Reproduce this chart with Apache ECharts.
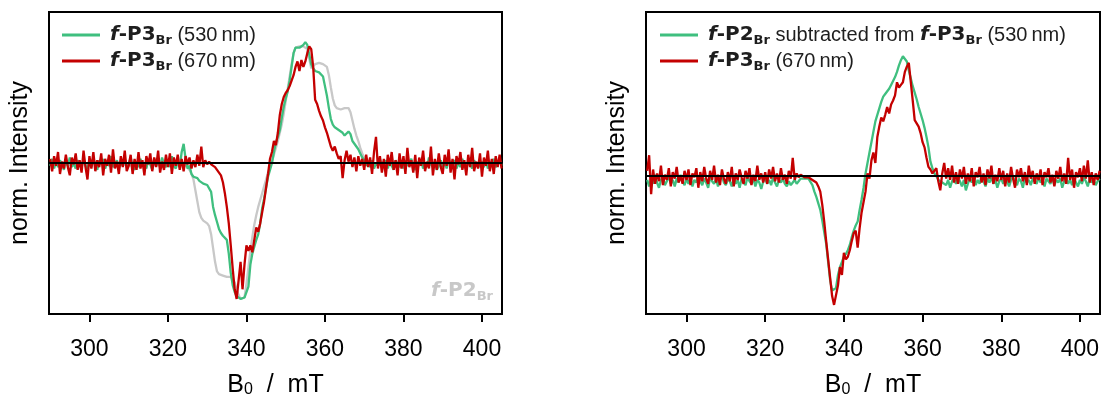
<!DOCTYPE html>
<html>
<head>
<meta charset="utf-8">
<script src="https://cdn.jsdelivr.net/npm/echarts@6/dist/echarts.min.js"></script>
<style>
html,body{margin:0;padding:0;background:#fff;}
#chart{width:1101px;height:398px;}
</style>
</head>
<body>
<div id="chart"></div>
<script>
// Field grid: B0 from 290 mT in 0.5 mT steps
const fieldStart = 290;
const fieldStep = 0.5;
const xTicks = [300, 320, 340, 360, 380, 400];

// Left panel (normalized intensity x100)
const leftP2 = [
 -1,0,-2,1,-1,-2,0,-1,1,-2,-1,0,-2,-1,1,-1,-2,0,-1,-1,
 0,-2,-1,1,-1,-2,0,-1,-2,1,-1,0,-2,-1,0,-1,1,-2,-1,0,
 -1,-2,0,-1,1,-2,-1,0,-1,-2,1,-1,0,-2,-1,1,-1,-2,0,-1,
 -1,0,-2,-1,1,-1,-2,0,-1,-2,-3,-5,-8,-12,-20,-28,-36,-40,-42,-42,
 -44,-46,-52,-62,-72,-79,-81,-82,-82,-82,-83,-82,-83,-84,-87,-92,-96,-99,-100,-98,
 -88,-76,-64,-54,-45,-38,-32,-27,-22,-17,-12,-7,-3,1,6,11,16,22,28,36,
 45,54,63,72,80,84,85,85,84,85,84,83,76,69,70,72,73,73,72,72,
 71,70,64,55,47,42,40,40,39,40,40,41,40,37,31,25,20,16,11,7,
 4,1,-1,0,-2,-1,0,-2,-1,1,-1,-2,0,-1,-2,0,-1,1,-1,-2,
 0,-1,-2,1,-1,0,-2,-1,0,-1,1,-2,-1,0,-1,-2,0,1,-1,-2,
 -1,0,-2,-1,1,-1,-2,0,-1,-1,0,-2,-1,1,-1,0,-2,-1,0,-1,
 -1,-2,0,-1,1,-1,-2,0,-1,0,-1
];
const leftP3_530 = [
 -2,3,-4,1,-3,2,-1,-5,2,-2,4,-3,0,-4,2,-1,-3,3,-2,-4,
 1,-3,4,-2,-5,2,-1,3,-4,0,-2,5,-3,-1,2,-4,1,-2,3,-3,
 -1,4,-2,-5,1,-3,3,-2,0,-4,2,-1,-5,3,-2,1,-3,4,-1,-3,
 2,-3,5,-2,-4,1,-3,8,14,3,-4,-2,-8,-10,-11,-11,-13,-14,-15,-15,
 -16,-17,-21,-32,-38,-43,-48,-51,-53,-54,-56,-66,-80,-89,-94,-97,-98,-99,-99,-98,
 -97,-90,-74,-66,-61,-56,-52,-44,-33,-26,-18,-10,-5,0,8,15,19,24,33,41,
 47,52,60,70,80,84,85,84,85,86,88,86,79,72,69,67,66,66,65,63,
 56,49,40,32,28,26,25,24,24,22,20,19,23,21,16,14,12,10,7,4,
 2,-2,1,-3,2,-4,0,-2,3,-3,-1,2,-4,1,-2,-5,2,-1,-3,1,
 -4,2,-2,-1,3,-3,-5,1,-2,2,-4,0,-3,4,-1,-3,1,-5,-2,2,
 -3,1,-4,3,-2,-1,2,-4,0,-3,3,-2,-5,1,-1,-4,2,-2,0,-3,
 1,-3,2,-4,0,-2,3,-3,-1,2,-2
];
const leftP3_670 = [
 3,-6,5,-2,8,-8,1,-4,6,-3,-9,4,-1,7,-5,2,-7,9,-3,-12,
 5,-4,8,-6,2,-3,7,-9,3,-2,6,-7,10,-4,1,-8,5,-3,9,-6,
 -2,6,-8,3,-5,8,-4,2,-9,5,-1,7,-6,4,-3,9,-7,1,-5,6,
 -3,7,-8,4,-2,6,-5,3,-6,5,-1,4,-4,2,-3,6,-2,12,-3,2,
 -1,1,-1,-2,-3,-5,-7,-9,-14,-22,-32,-44,-60,-77,-92,-99,-100,-72,-92,-74,
 -60,-64,-60,-65,-56,-47,-50,-44,-36,-28,-18,-8,3,8,16,13,22,35,43,48,
 51,53,56,60,64,70,74,67,75,70,74,80,85,83,70,46,43,38,34,31,
 26,22,17,12,9,12,7,3,5,-11,2,9,1,6,-3,4,-6,5,-2,3,
 -5,6,-3,4,-8,8,19,-4,5,-7,3,-10,6,-2,8,-5,2,-9,7,-4,
 5,-8,11,-3,2,-7,6,-11,4,-2,9,-6,1,-4,12,-9,3,-5,7,-3,
 -8,6,-2,10,-7,3,-12,5,-1,8,-5,2,-9,6,-3,11,-6,1,-4,7,
 -10,4,-2,9,-6,3,-8,5,-3,6,-4
];

// Right panel
const rightSub_530 = [
 -3,-8,-2,-6,1,-5,-9,-3,-1,-7,-4,0,-6,-3,-8,-2,-5,1,-4,-7,
 -2,-6,-1,-8,-3,-5,0,-4,-7,-2,-5,-9,-1,-4,-6,-2,-8,-3,0,-5,
 -7,-2,-4,-8,-1,-6,-3,-9,-2,-5,-7,-1,-4,-6,-2,-8,-3,-5,-10,-4,
 -2,-6,-3,-7,-1,-5,-8,-3,-5,-2,-6,-8,-4,-7,-5,-3,-6,-4,-2,-3,
 -2,-1,-2,-3,-7,-12,-16,-21,-26,-34,-43,-52,-66,-80,-88,-89,-86,-76,-70,-66,
 -62,-60,-57,-53,-47,-42,-38,-35,-26,-18,-9,2,10,18,26,34,42,47,52,57,
 61,63,64,67,70,73,76,80,85,89,92,91,88,81,75,69,64,59,53,48,
 43,37,30,22,11,6,2,0,-3,-2,-5,-4,-7,-3,-9,-4,-2,-6,-1,-4,
 -8,-3,-11,-6,-2,-5,-1,-7,-3,-6,0,-4,-8,-2,-5,-1,-6,-3,-9,-4,
 -2,-6,-1,-4,-8,-3,0,-5,-7,-2,-4,-9,-1,-5,-3,-7,-2,-4,-6,-1,
 -5,-3,-8,-2,-4,-6,-1,-7,-3,-5,-2,-9,-4,-1,-6,-3,-7,-2,-5,-8,
 -3,-6,-1,-4,-8,-2,-5,-3,-7,-4,-2
];
const rightP3_670 = [
 4,16,-14,5,-6,2,-4,8,-7,1,-3,6,-8,3,-2,7,-5,0,-6,4,
 -3,5,-7,2,-1,6,-9,3,-4,7,-2,-6,4,-3,8,-5,1,-7,5,-2,
 -6,3,-4,7,-8,2,-3,5,-1,-6,4,-2,6,-7,1,-4,8,-3,2,-5,
 3,-6,5,-2,7,-4,2,-5,6,-3,1,-6,4,-2,14,-3,2,-1,1,0,
 -1,-1,-1,-1,-3,-4,-5,-8,-12,-22,-35,-50,-64,-78,-92,-99,-99,-84,-70,-76,
 -59,-64,-62,-57,-50,-44,-42,-55,-40,-28,-20,-12,2,-2,12,18,10,30,38,45,
 42,47,53,48,55,58,62,72,68,70,72,80,84,87,86,58,43,42,38,33,
 26,22,14,7,5,2,3,6,-4,-11,2,10,-2,6,-3,8,-5,3,-6,5,
 -2,7,-6,2,-4,6,-8,3,-1,7,-5,2,-7,5,-2,8,-6,1,-4,6,
 -3,4,-8,2,-5,7,-2,-9,5,-1,6,-4,3,-7,8,-2,4,-6,2,-3,
 5,-7,3,-1,6,-5,1,-8,4,-2,7,-4,2,-6,14,-3,5,-9,3,-1,
 6,-4,8,-2,12,-5,3,-7,2,-3,4
];

const GREEN = '#3fbf7f';
const RED = '#c40000';
const GREY = '#c8c8c8';
const FONT = 'Liberation Sans';
const BOLDFONT = 'DejaVu Sans';

function pairs(vals) { return vals.map((v, i) => [fieldStart + i * fieldStep, v]); }

function richFor(color, size) {
  return {
    bi: { fontFamily: BOLDFONT, fontSize: size, fontWeight: 'bold', fontStyle: 'italic', color: color, lineHeight: 24 },
    b: { fontFamily: BOLDFONT, fontSize: size, fontWeight: 'bold', color: color, lineHeight: 24 },
    sub: { fontFamily: BOLDFONT, fontSize: Math.round(size * 0.65), fontWeight: 'bold', color: color, lineHeight: 12, verticalAlign: 'bottom' },
    n: { fontFamily: FONT, fontSize: size, color: color, lineHeight: 24 }
  };
}

const legendText = {
  L530: '{bi|f}{b|-P3}{sub|Br}{n| (530\u2009nm)}',
  L670: '{bi|f}{b|-P3}{sub|Br}{n| (670\u2009nm)}',
  R530: '{bi|f}{b|-P2}{sub|Br}{n| subtracted from }{bi|f}{b|-P3}{sub|Br}{n| (530\u2009nm)}',
  R670: '{bi|f}{b|-P3}{sub|Br}{n| (670\u2009nm)}'
};

const xMin = 289.7, xMax = 405.1;

function xAxisCfg(gi) {
  return {
    type: 'value', gridIndex: gi, min: xMin, max: xMax,
    axisLine: { show: true, onZero: false, lineStyle: { color: '#000', width: 2 } },
    axisTick: { show: true, inside: false, length: 8, lineStyle: { color: '#000', width: 2 }, customValues: xTicks },
    axisLabel: { show: true, fontFamily: FONT, fontSize: 23, color: '#000', margin: 24, customValues: xTicks },
    splitLine: { show: false },
    name: 'B{s|0}  /  mT', nameLocation: 'middle', nameGap: 59,
    nameTextStyle: { fontFamily: FONT, fontSize: 25, color: '#000',
      rich: { s: { fontFamily: FONT, fontSize: 16, color: '#000', verticalAlign: 'bottom', lineHeight: 12 } } }
  };
}
function yAxisCfg(gi, mn, mx) {
  return {
    type: 'value', gridIndex: gi, min: mn, max: mx,
    axisLine: { show: true, lineStyle: { color: '#000', width: 2 } },
    axisTick: { show: false }, axisLabel: { show: false }, splitLine: { show: false },
    name: 'norm. Intensity', nameLocation: 'middle', nameGap: 16, nameRotate: 90,
    nameTextStyle: { fontFamily: FONT, fontSize: 25, color: '#000' }
  };
}
function lineSeries(name, xi, vals, color, z) {
  return {
    name: name, type: 'line', xAxisIndex: xi, yAxisIndex: xi, data: pairs(vals),
    showSymbol: false, symbol: 'none', smooth: false, z: z,
    lineStyle: { color: color, width: 2.3 }, itemStyle: { color: color },
    emphasis: { disabled: true }, silent: true
  };
}
function baseSeries(xi) {
  return {
    name: 'base' + xi, type: 'line', xAxisIndex: xi, yAxisIndex: xi, data: [], z: 1, silent: true,
    markLine: { symbol: 'none', silent: true, label: { show: false },
      lineStyle: { color: '#000', width: 2, type: 'solid' }, data: [{ yAxis: 0 }] }
  };
}

const legendCommon = {
  orient: 'vertical', icon: 'rect', itemWidth: 38, itemHeight: 3, itemGap: 4, padding: 0,
  formatter: n => legendText[n], selectedMode: false,
  textStyle: { fontFamily: FONT, fontSize: 20, color: '#1e1e1e', padding: [0, 0, 0, 5], rich: richFor('#1e1e1e', 20) }
};

const chart = echarts.init(document.getElementById('chart'), null, { renderer: 'canvas' });
chart.setOption({
  animation: false,
  backgroundColor: '#fff',
  grid: [
    { left: 49, top: 12, width: 453, height: 302, show: true, borderColor: '#000', borderWidth: 2, backgroundColor: 'transparent', outerBoundsMode: 'none', containLabel: false },
    { left: 646, top: 12, width: 454, height: 302, show: true, borderColor: '#000', borderWidth: 2, backgroundColor: 'transparent', outerBoundsMode: 'none', containLabel: false }
  ],
  xAxis: [xAxisCfg(0), xAxisCfg(1)],
  yAxis: [yAxisCfg(0, -110, 110), yAxisCfg(1, -106, 126)],
  legend: [
    Object.assign({ data: ['L530', 'L670'], left: 62, top: 25 }, legendCommon),
    Object.assign({ data: ['R530', 'R670'], left: 660, top: 25 }, legendCommon)
  ],
  graphic: [
    { type: 'text', right: 1101 - 493, top: 281, silent: true, z: 10,
      style: { text: '{bi|f}{b|-P2}{sub|Br}', rich: richFor(GREY, 20), fill: GREY } }
  ],
  series: [
    baseSeries(0),
    lineSeries('P2', 0, leftP2, GREY, 2),
    lineSeries('L530', 0, leftP3_530, GREEN, 3),
    lineSeries('L670', 0, leftP3_670, RED, 4),
    baseSeries(1),
    lineSeries('R530', 1, rightSub_530, GREEN, 3),
    lineSeries('R670', 1, rightP3_670, RED, 4)
  ]
});
</script>
</body>
</html>
